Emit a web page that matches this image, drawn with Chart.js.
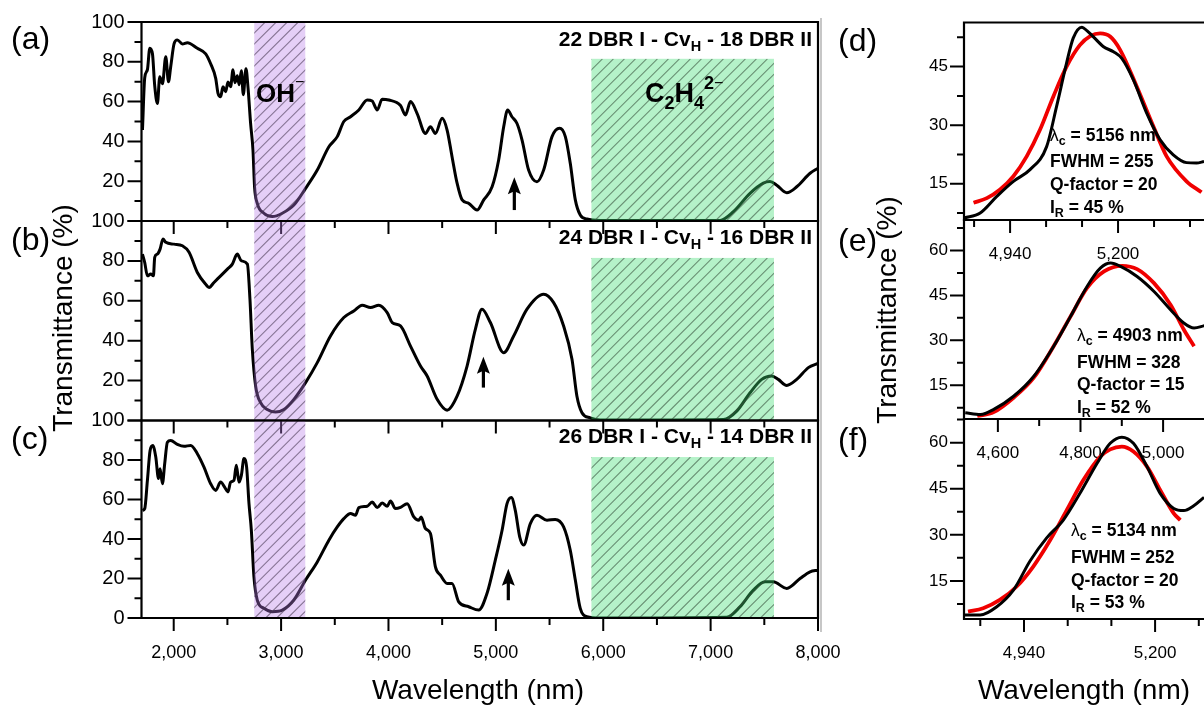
<!DOCTYPE html>
<html>
<head>
<meta charset="utf-8">
<title>DBR cavity transmittance spectra</title>
<script src="https://cdn.jsdelivr.net/npm/chart.js@4.4.1/dist/chart.umd.min.js"></script>
<style>
  html, body { margin: 0; padding: 0; background: #fff; overflow: hidden; }
  #wrap { position: relative; width: 1204px; height: 706px; }
  #wrap canvas { position: absolute; left: 0; top: 0; }
</style>
</head>
<body>
<div id="wrap"></div>
<script>
// ---------- measured spectra (wavelength in nm, transmittance in %) ----------
const waveA = [1709,1730,1755,1777,1802,1823,1848,1870,1895,1926,1951,1972,2003,2034,2081,2127,2220,2298,2344,2391,2412,2437,2459,2484,2505,2530,2552,2570,2592,2610,2630,2648,2673,2692,2716,2738,2753,2778,2840,2918,3011,3119,3228,3337,3445,3523,3584,3647,3724,3802,3848,3895,3941,4003,4112,4158,4205,4267,4344,4391,4437,4500,4546,4592,4639,4686,4747,4825,4887,4965,5026,5073,5110,5150,5197,5244,5305,5383,5445,5523,5594,5647,5693,5740,5786,5848,5972,7088,7212,7367,7491,7553,7616,7709,7802,7926,8000];
const transA = [45.7,72,76,86.8,84,68,59,72.5,69,82.5,70,77.5,89,91,89,89.6,86.8,84,79,71.7,64.3,62.5,67.5,65,69.8,67.5,76,69.5,73,68.5,75.5,63.5,76.5,67,49,35.7,17,8.9,3.9,2.2,3.9,8,16.4,25.6,37.3,42.4,50,52.4,55.8,60.8,60.3,55.8,61.2,60.8,58,53.3,60,54,44,47.4,44,51.6,45.7,32.3,19,10.6,8.9,5.5,10.6,17.2,30.7,47.4,55.8,52.4,49,40.7,25.6,19.7,25.6,42.4,46.6,42.4,29,10.6,3,1,0.3,0.3,4.7,13.9,19,19.8,18,14.2,17.2,24,26.5];

const waveB = [1709,1730,1755,1786,1811,1823,1848,1873,1900,1926,2003,2081,2143,2220,2298,2329,2375,2437,2500,2546,2592,2630,2686,2710,2732,2763,2809,2871,2949,3026,3119,3228,3337,3460,3584,3677,3755,3833,3910,3988,4035,4112,4205,4298,4360,4453,4546,4639,4732,4809,4871,4949,5073,5166,5290,5445,5538,5631,5709,5755,5802,5879,5972,7119,7243,7367,7476,7569,7630,7709,7802,7910,8000];
const transB = [83.4,79.2,72.5,73.4,72.5,81.8,83.4,85.9,91,89.3,88.4,87.6,84.3,74.2,68.3,66.7,69.2,72.5,75.9,78.4,83.4,80,78.4,60.8,35.7,17.2,8.9,5.5,4.2,5.5,10.6,19,29,42.4,51.6,54.9,57.8,56.6,57.8,54.1,49.1,47.4,37.3,27.3,22.3,10.6,5.2,12.2,27.3,45.7,55.8,49.1,34,42.4,55.8,63.3,59.1,47.4,30.7,12.2,3.9,1.3,0.2,0.5,4.7,13.9,20.6,22.3,20.6,17.6,20.6,26.5,28.6];

const waveC = [1709,1730,1755,1780,1805,1833,1858,1873,1895,1916,1941,1972,2034,2096,2158,2220,2282,2344,2391,2437,2474,2505,2530,2561,2583,2608,2630,2654,2679,2701,2723,2747,2778,2840,2918,3011,3119,3228,3337,3445,3523,3584,3647,3693,3724,3802,3848,3895,3941,3988,4019,4065,4112,4174,4236,4282,4304,4344,4391,4437,4484,4546,4592,4654,4747,4840,4918,4995,5058,5104,5144,5181,5222,5259,5321,5383,5476,5553,5631,5693,5740,5786,5848,5972,7150,7274,7398,7507,7584,7709,7833,7926,8000];
const transC = [54.5,55.4,69.7,84.8,87.4,81.5,70.6,75.6,68,78.1,89,89.9,87.9,86.9,87.4,83.2,76.4,68,64.6,68.8,66.3,63.8,68.8,69.7,77.3,68.8,72.2,80.7,76.4,57.9,44.4,20.9,9.1,4.9,3.2,4,9.1,19.2,28.4,39.4,46.1,50.3,52.9,52,55.9,56.6,58.7,55.9,58.2,56.6,59.2,55.4,56,57.9,51.2,49.5,51.2,45.3,42.8,25.9,21.7,17.5,17.5,8.2,5.7,4,12.5,29.3,44.4,57.9,61,54.5,41.1,36.9,47.8,52,49.5,49.9,46.1,34.3,19.2,4.9,0.7,0,0.4,5.7,14.1,18.3,18.3,15,20,23.4,24.2];

// cavity-mode close-ups (black: measured, red: Gaussian fit)
const waveD = [4829,4868,4908,4948,4988,5028,5052,5076,5092,5113,5125,5140,5165,5189,5209,5237,5269,5301,5333,5365,5389,5407];
const transD = [6.2,7.5,11.75,15.6,18.6,24.5,34.8,45.9,52.3,55.1,54.2,52.7,50.1,48.8,47.1,41.6,33.1,26.3,22.4,20.4,20.3,20.7];
const fitWaveD = [4852,4884,4916,4948,4980,5012,5044,5076,5108,5133,5157,5181,5205,5245,5285,5317,5365,5401];
const fitD = [10.1,11.3,13.5,16.9,22,28.8,37.3,45,50.5,52.8,53.5,52.7,49.3,39.9,29.7,22,15.6,12.8];

const waveE = [4521,4558,4590,4638,4687,4735,4776,4816,4848,4873,4897,4937,4978,5018,5050,5075,5100];
const transE = [5.8,5.2,6.9,11.3,18,28,38,48,54.1,55.8,54.7,51.3,46.3,40.2,35.8,34.1,34.9];
const fitWaveE = [4550,4590,4638,4687,4735,4776,4816,4857,4901,4937,4978,5018,5050,5075];
const fitE = [4.7,6,10.8,17.5,28,38,47.5,53,54.9,53.8,49.1,41.9,33.6,28];

const waveF = [4823,4853,4886,4919,4952,4985,5018,5051,5085,5111,5134,5157,5184,5210,5237,5257,5276,5297];
const transF = [3.9,3.9,6.6,12,21.5,29,34.8,43.5,53.3,59.8,61.8,59.8,52.2,43.5,38.6,37.9,39.4,42.2];
const fitWaveF = [4829,4859,4892,4925,4958,4992,5025,5058,5091,5111,5134,5157,5184,5210,5237,5250];
const fitF = [5,6.1,8.8,13.1,19.6,28.3,38.1,47.9,55.4,57.8,58.7,57.1,52.2,44.6,37,34.8];

// ---------- axis ticks ----------
const specXMajor = [2000,3000,4000,5000,6000,7000,8000];
const specXMinor = [2500,3500,4500,5500,6500,7500];
const specYLabels = [20,40,60,80,100];
const specYLabelsLast = [0,20,40,60,80,100];
const specYMinor = [10,30,50,70,90];

const zoomXMajorD = [4940,5200];
const zoomXMinorD = [4853.3,5026.7,5113.3,5286.7,5373.3];
const zoomXMajorE = [4600,4800,5000];
const zoomXMinorE = [4700,4900];
const zoomXMajorF = [4940,5200];
const zoomXMinorF = [4853.3,5026.7,5113.3,5286.7];
const zoomYMajorD = [15,30,45];
const zoomYMajor = [15,30,45,60];
const zoomYMinor = [7.5,22.5,37.5,52.5,67.5];

// ---------- absorption bands and cavity-mode markers ----------
const ohBand = [2750, 3225];          // nm, full height
const c2h4Band = [5890, 7590, 81.5];  // nm, nm, top %
const modeArrowA = [5172, 5.5, 22];   // nm, tail %, tip %
const modeArrowB = [4884, 16.5, 32];
const modeArrowC = [5116, 9, 25];

const titleA = ['22 DBR I - Cv', 'H', ' - 18 DBR II'];
const titleB = ['24 DBR I - Cv', 'H', ' - 16 DBR II'];
const titleC = ['26 DBR I - Cv', 'H', ' - 14 DBR II'];

const fitTextD = ['5156', '255', '20', '45'];
const fitTextE = ['4903', '328', '15', '52'];
const fitTextF = ['5134', '252', '20', '53'];

// ---------- drawing helpers ----------
const FONT = '"Liberation Sans", Arial, Helvetica, sans-serif';
const W = 1204, H = 706, YW = 60, XH = 50;
const wrap = document.getElementById('wrap');
Chart.defaults.font.family = FONT;
Chart.defaults.color = '#000';

function rich(ctx, parts, x, y, align) {
  // parts: [text, size, baseline shift, weight]
  let w = 0;
  parts.forEach(p => { ctx.font = `${p[3] || 'bold'} ${p[1]}px ${FONT}`; w += ctx.measureText(p[0]).width; });
  let cx = align === 'right' ? x - w : (align === 'center' ? x - w / 2 : x);
  ctx.textAlign = 'left';
  ctx.textBaseline = 'alphabetic';
  parts.forEach(p => {
    ctx.font = `${p[3] || 'bold'} ${p[1]}px ${FONT}`;
    ctx.fillText(p[0], cx, y + p[2]);
    cx += ctx.measureText(p[0]).width;
  });
}

function drawTicks(chart, t) {
  const { ctx, chartArea: a, scales: { x, y } } = chart;
  ctx.save();
  ctx.strokeStyle = '#000';
  ctx.lineWidth = 2;
  ctx.beginPath();
  t.xMajor.forEach(v => { const p = x.getPixelForValue(v); ctx.moveTo(p, a.bottom); ctx.lineTo(p, a.bottom + 13); });
  t.xMinor.forEach(v => { const p = x.getPixelForValue(v); ctx.moveTo(p, a.bottom); ctx.lineTo(p, a.bottom + 7); });
  t.yMajor.forEach(v => { const p = y.getPixelForValue(v); ctx.moveTo(a.left, p); ctx.lineTo(a.left - 14, p); });
  t.yMinor.forEach(v => { const p = y.getPixelForValue(v); if (p > a.top && p < a.bottom) { ctx.moveTo(a.left, p); ctx.lineTo(a.left - 7, p); } });
  ctx.stroke();
  ctx.lineWidth = 2.2;
  ctx.beginPath();
  if (t.fullFrame) {
    ctx.rect(a.left, a.top, a.right - a.left, a.bottom - a.top);
  } else {
    ctx.moveTo(W + 5, a.top); ctx.lineTo(a.left, a.top); ctx.lineTo(a.left, a.bottom); ctx.lineTo(W + 5, a.bottom);
  }
  ctx.stroke();
  ctx.restore();
}

function drawBand(chart, x0v, x1v, topV, fill, hatch) {
  const { ctx, scales: { x, y } } = chart;
  const x0 = x.getPixelForValue(x0v), x1 = x.getPixelForValue(x1v);
  const y0 = y.getPixelForValue(topV), y1 = y.getPixelForValue(0);
  ctx.save();
  ctx.fillStyle = fill;
  ctx.fillRect(x0, y0, x1 - x0, y1 - y0);
  ctx.beginPath();
  ctx.rect(x0, y0, x1 - x0, y1 - y0);
  ctx.clip();
  ctx.strokeStyle = hatch;
  ctx.lineWidth = 1.1;
  ctx.beginPath();
  const h = y1 - y0;
  for (let k = -h; k < (x1 - x0) + h; k += 11) {
    ctx.moveTo(x0 + k, y1);
    ctx.lineTo(x0 + k + h, y0);
  }
  ctx.stroke();
  ctx.restore();
}

function drawArrow(chart, arr) {
  const { ctx, scales: { x, y } } = chart;
  const px = x.getPixelForValue(arr[0]);
  const yb = y.getPixelForValue(arr[1]);
  const yt = y.getPixelForValue(arr[2]);
  ctx.save();
  ctx.fillStyle = '#000';
  ctx.fillRect(px - 1.6, yt + 12, 3.2, yb - yt - 12);
  ctx.beginPath();
  ctx.moveTo(px, yt);
  ctx.lineTo(px - 6.5, yt + 17);
  ctx.lineTo(px, yt + 14);
  ctx.lineTo(px + 6.5, yt + 17);
  ctx.closePath();
  ctx.fill();
  ctx.restore();
}

function drawTitle(chart, parts, baseY) {
  const { ctx, chartArea: a } = chart;
  ctx.save();
  ctx.fillStyle = '#000';
  rich(ctx, [[parts[0], 21, 0], [parts[1], 14.5, 5], [parts[2], 21, 0]], a.right - 6, baseY, 'right');
  ctx.restore();
}

function drawFitText(chart, vals, x, ys) {
  const { ctx } = chart;
  ctx.save();
  ctx.fillStyle = '#000';
  rich(ctx, [['\u03bb', 17.5, 0, 'normal'], ['c', 12.5, 4], [' = ' + vals[0] + ' nm', 17.5, 0]], x, ys[0], 'left');
  rich(ctx, [['FWHM = ' + vals[1], 17.5, 0]], x, ys[1], 'left');
  rich(ctx, [['Q-factor = ' + vals[2], 17.5, 0]], x, ys[2], 'left');
  rich(ctx, [['I', 17.5, 0], ['R', 12.5, 4], [' = ' + vals[3] + ' %', 17.5, 0]], x, ys[3], 'left');
  ctx.restore();
}

function panel(o) {
  const cv = document.createElement('canvas');
  cv.width = W; cv.height = H;
  wrap.appendChild(cv);
  return new Chart(cv, {
    type: 'line',
    data: {
      datasets: o.series.map(s => ({
        data: s.x.map((v, i) => ({ x: v, y: s.y[i] })),
        borderColor: s.color,
        borderWidth: s.width,
        pointRadius: 0,
        fill: false,
        cubicInterpolationMode: 'monotone'
      }))
    },
    options: {
      responsive: false,
      animation: false,
      devicePixelRatio: 1,
      events: [],
      layout: { padding: { left: o.box[0] - YW, top: o.box[1], right: W - o.box[2], bottom: H - o.box[3] - XH } },
      plugins: { legend: { display: false }, tooltip: { enabled: false } },
      scales: {
        x: {
          type: 'linear', min: o.xRange[0], max: o.xRange[1],
          afterBuildTicks: s => { s.ticks = o.ticks.xMajor.map(v => ({ value: v })); },
          afterFit: s => { s.height = XH; s.paddingLeft = 0; s.paddingRight = 0; },
          grid: { display: false, drawTicks: false },
          border: { display: false },
          ticks: {
            display: o.xLabels, autoSkip: false, maxRotation: 0, padding: 24, color: '#000',
            font: { family: FONT, size: o.xFont },
            callback: v => v.toLocaleString('en-US')
          }
        },
        y: {
          type: 'linear', min: o.yRange[0], max: o.yRange[1],
          afterBuildTicks: s => { s.ticks = o.yLabels.map(v => ({ value: v })); },
          afterFit: s => { s.width = YW; s.paddingTop = 0; s.paddingBottom = 0; },
          grid: { display: false, drawTicks: false },
          border: { display: false },
          ticks: {
            autoSkip: false, padding: o.yPad, color: '#000',
            font: { family: FONT, size: o.yFont },
            callback: v => v.toLocaleString('en-US')
          }
        }
      }
    },
    plugins: [{
      id: 'panelDecor',
      afterDatasetsDraw(chart) { if (o.overlay) o.overlay(chart); },
      afterDraw(chart) {
        drawTicks(chart, o.ticks);
        if (o.text) o.text(chart);
      }
    }]
  });
}

// ---------- left column: full spectra ----------
const specX = [1700, 8000];
const specY = [0, 100];
const bandFills = (chart) => {
  drawBand(chart, ohBand[0], ohBand[1], 100, 'rgba(182,122,232,0.36)', 'rgba(70,55,80,0.6)');
  drawBand(chart, c2h4Band[0], c2h4Band[1], c2h4Band[2], 'rgba(60,222,112,0.38)', 'rgba(55,80,60,0.6)');
};

panel({
  box: [141.5, 22, 818, 221], xRange: specX, yRange: specY,
  series: [{ x: waveA, y: transA, color: '#000', width: 3 }],
  xLabels: false, xFont: 18, yLabels: specYLabels, yFont: 20, yPad: 17,
  ticks: { xMajor: specXMajor, xMinor: specXMinor, yMajor: specYLabelsLast, yMinor: specYMinor, fullFrame: true },
  overlay: chart => { bandFills(chart); drawArrow(chart, modeArrowA); },
  text: chart => {
    const ctx = chart.ctx;
    ctx.save();
    ctx.fillStyle = '#000';
    drawTitle(chart, titleA, 45.5);
    rich(ctx, [['OH', 26, 0], ['\u2212', 16, -15, 'normal']], 256, 101.5, 'left');
    rich(ctx, [['C', 27, 0], ['2', 18, 7], ['H', 27, 0], ['4', 18, 7], ['2', 18, -13], ['\u2212', 16, -14, 'normal']], 645, 102, 'left');
    ctx.restore();
  }
});

panel({
  box: [141.5, 221, 818, 420.5], xRange: specX, yRange: specY,
  series: [{ x: waveB, y: transB, color: '#000', width: 3 }],
  xLabels: false, xFont: 18, yLabels: specYLabels, yFont: 20, yPad: 17,
  ticks: { xMajor: specXMajor, xMinor: specXMinor, yMajor: specYLabelsLast, yMinor: specYMinor, fullFrame: true },
  overlay: chart => { bandFills(chart); drawArrow(chart, modeArrowB); },
  text: chart => drawTitle(chart, titleB, 244)
});

panel({
  box: [141.5, 420.5, 818, 618], xRange: specX, yRange: specY,
  series: [{ x: waveC, y: transC, color: '#000', width: 3 }],
  xLabels: true, xFont: 18, yLabels: specYLabelsLast, yFont: 20, yPad: 17,
  ticks: { xMajor: specXMajor, xMinor: specXMinor, yMajor: specYLabelsLast, yMinor: specYMinor, fullFrame: true },
  overlay: chart => { bandFills(chart); drawArrow(chart, modeArrowC); },
  text: chart => {
    const ctx = chart.ctx;
    drawTitle(chart, titleC, 443);
    ctx.save();
    ctx.fillStyle = '#000';
    ctx.font = `28px ${FONT}`;
    ctx.textAlign = 'center';
    ctx.textBaseline = 'alphabetic';
    ctx.fillText('Wavelength (nm)', 478, 699);
    ctx.translate(72, 318);
    ctx.rotate(-Math.PI / 2);
    ctx.fillText('Transmittance (%)', 0, 0);
    ctx.restore();
    ctx.save();
    ctx.fillStyle = '#000';
    ctx.font = `32px ${FONT}`;
    ctx.textAlign = 'left';
    ctx.fillText('(a)', 11, 49);
    ctx.fillText('(b)', 11, 250);
    ctx.fillText('(c)', 11, 449);
    ctx.strokeStyle = '#b4b4b4';
    ctx.lineWidth = 1.5;
    ctx.beginPath();
    ctx.moveTo(821, 18);
    ctx.lineTo(821, 632);
    ctx.stroke();
    ctx.restore();
  }
});

// ---------- right column: cavity-mode close-ups ----------
panel({
  box: [964, 22.5, 1204, 220], xRange: [4829, 5407], yRange: [5.7, 56.3],
  series: [{ x: waveD, y: transD, color: '#000', width: 3 }, { x: fitWaveD, y: fitD, color: '#f00000', width: 3.8 }],
  xLabels: true, xFont: 17, yLabels: zoomYMajorD, yFont: 17, yPad: 16,
  ticks: { xMajor: zoomXMajorD, xMinor: zoomXMinorD, yMajor: zoomYMajorD, yMinor: zoomYMinor, fullFrame: false },
  text: chart => drawFitText(chart, fitTextD, 1050, [141, 167, 190, 213])
});

panel({
  box: [964, 220, 1204, 419], xRange: [4518, 5099], yRange: [3.7, 70.2],
  series: [{ x: waveE, y: transE, color: '#000', width: 3 }, { x: fitWaveE, y: fitE, color: '#f00000', width: 3.8 }],
  xLabels: true, xFont: 17, yLabels: zoomYMajor, yFont: 17, yPad: 16,
  ticks: { xMajor: zoomXMajorE, xMinor: zoomXMinorE, yMajor: zoomYMajor, yMinor: zoomYMinor, fullFrame: false },
  text: chart => drawFitText(chart, fitTextE, 1077, [341, 368, 390, 413])
});

panel({
  box: [964, 419, 1204, 619], xRange: [4821, 5297], yRange: [2.6, 67.7],
  series: [{ x: waveF, y: transF, color: '#000', width: 3 }, { x: fitWaveF, y: fitF, color: '#f00000', width: 3.8 }],
  xLabels: true, xFont: 17, yLabels: zoomYMajor, yFont: 17, yPad: 16,
  ticks: { xMajor: zoomXMajorF, xMinor: zoomXMinorF, yMajor: zoomYMajor, yMinor: zoomYMinor, fullFrame: false },
  text: chart => {
    const ctx = chart.ctx;
    drawFitText(chart, fitTextF, 1071, [536, 563, 586, 608]);
    ctx.save();
    ctx.fillStyle = '#000';
    ctx.font = `28px ${FONT}`;
    ctx.textAlign = 'center';
    ctx.textBaseline = 'alphabetic';
    ctx.fillText('Wavelength (nm)', 1084, 699);
    ctx.translate(896, 310);
    ctx.rotate(-Math.PI / 2);
    ctx.fillText('Transmittance (%)', 0, 0);
    ctx.restore();
    ctx.save();
    ctx.fillStyle = '#000';
    ctx.font = `32px ${FONT}`;
    ctx.textAlign = 'left';
    ctx.fillText('(d)', 838, 51);
    ctx.fillText('(e)', 838, 251);
    ctx.fillText('(f)', 838, 450);
    ctx.restore();
  }
});
</script>
</body>
</html>
